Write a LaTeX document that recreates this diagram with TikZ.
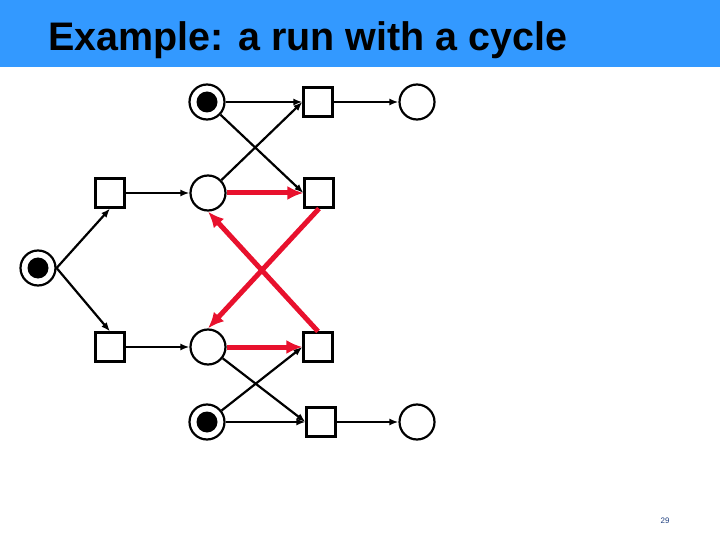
\documentclass[tikz,border=0pt]{standalone}
\usepackage{fontspec}
\setmainfont{Liberation Sans}
\usepackage{xcolor}
\definecolor{titlebar}{RGB}{51,153,255}
\definecolor{cyclered}{RGB}{232,17,45}
\definecolor{pagenum}{RGB}{31,63,127}
\usetikzlibrary{arrows.meta}
\tikzset{
  place/.style={circle,draw,line width=2.2bp,
    minimum size=35bp,inner sep=0pt},
  marked/.style={place,
    path picture={\fill (path picture bounding box.center) circle (10.5bp);}},
  trans/.style={rectangle,draw,line width=2.2bp,
    minimum size=29bp,inner sep=0pt},
  arc/.style={-{Latex[length=9bp,width=7bp]},line width=2.2bp},
  cyc/.style={-{Latex[length=16bp,width=14bp]},line width=5bp,
    draw=cyclered},
}

\begin{document}
\begin{tikzpicture}[x=1bp,y=-1bp]
  \useasboundingbox (0,0) rectangle (720,540);
  % title bar
  \fill[titlebar] (0,0) rectangle (720,67);
  \node (title) [anchor=base west,inner sep=0pt,xscale=0.99,
                 font=\fontsize{40}{48}\selectfont\bfseries]
    at (48,51) {Example: a run with a cycle};

  % places and transitions
  \node (p0) [marked] at (38,268) {};
  \node (t1) [trans]  at (110,193) {};
  \node (t2) [trans]  at (110,347) {};
  \node (p1) [marked] at (207,102) {};
  \node (p2) [place]  at (208,193) {};
  \node (p3) [place]  at (208,347) {};
  \node (p4) [marked] at (207,422) {};
  \node (t3) [trans]  at (318,102) {};
  \node (t4) [trans]  at (319,193) {};
  \node (t5) [trans]  at (318,347) {};
  \node (t6) [trans]  at (321,422) {};
  \node (p5) [place]  at (417,102) {};
  \node (p6) [place]  at (417,422) {};

  % ordinary arcs
  \draw[arc] (p0.east) -- (t1.south);
  \draw[arc] (p0.east) -- (t2.north);
  \draw[arc] (t1) -- (p2);
  \draw[arc] (t2) -- (p3);
  \draw[arc] (p1) -- (t3);
  \draw[arc] (p1) -- (t4.west);
  \draw[arc] (p2) -- (t3.west);
  \draw[arc] (t3) -- (p5);
  \draw[arc] (p3) -- (t6.west);
  \draw[arc] (p4) -- (t5.west);
  \draw[arc] (p4) -- (t6);
  \draw[arc] (t6) -- (p6);

  % the cycle
  \draw[cyc] (p2) -- (t4);
  \draw[cyc] (t4.south) -- (p3.north);
  \draw[cyc] (p3) -- (t5);
  \draw[cyc] (t5.north) -- (p2.south);

  \node (page) [font=\fontsize{8}{9}\selectfont,text=pagenum]
    at (665,521) {29};
\end{tikzpicture}
\end{document}
